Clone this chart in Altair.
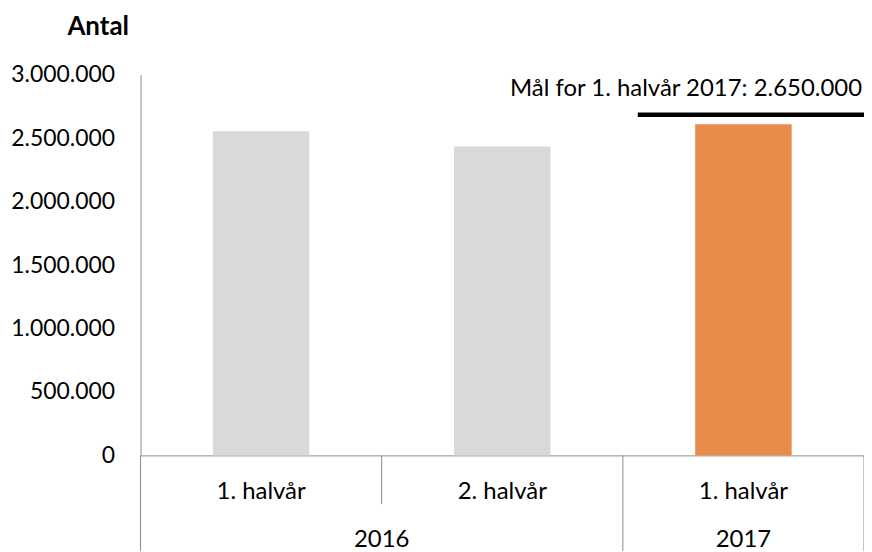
import altair as alt
import pandas as pd

# ---- data ----
years = ["2016", "2016", "2017"]
halves = ["1. halvår", "2. halvår", "1. halvår"]
counts = [2555000, 2435000, 2610000]
status = ["tidligere", "tidligere", "aktuel"]
y_ticks = [0, 500000, 1000000, 1500000, 2000000, 2500000, 3000000]
target_value = 2650000        # value written in the label
target_line_value = 2685000   # where the target line is drawn
target_year = "2017"

FONT = "Lato"
FS = 24
AXIS_GREY = "#8C8C8C"
W, H = 726, 382

keys = [f"{y}|{h}" for y, h in zip(years, halves)]
bars = pd.DataFrame({"key": keys, "count": counts, "status": status})

# boundaries between categories (index units) and year groups
year_groups = []
for i, y in enumerate(years):
    if year_groups and year_groups[-1]["year"] == y:
        year_groups[-1]["end"] = i + 1
    else:
        year_groups.append({"year": y, "start": i, "end": i + 1})
years_df = pd.DataFrame([{"year": g["year"], "mid": (g["start"] + g["end"]) / 2} for g in year_groups])
long_b = sorted({g["start"] for g in year_groups} | {g["end"] for g in year_groups})
short_b = [i for i in range(1, len(years)) if i not in long_b]
long_df = pd.DataFrame({"b": long_b})
short_df = pd.DataFrame({"b": short_b})

tg = [g for g in year_groups if g["year"] == target_year][0]
target_df = pd.DataFrame({
    "start": [tg["start"]], "end": [tg["end"]], "count": [target_line_value],
    "label": ["Mål for 1. halvår 2017: " + f"{target_value:,}".replace(",", ".")],
})

lin = alt.Scale(domain=[0, len(years)], nice=False, zero=False)

bar_layer = alt.Chart(bars).mark_bar().encode(
    x=alt.X("key:N", sort=keys,
            scale=alt.Scale(paddingInner=0.6, paddingOuter=0.3),
            axis=alt.Axis(title=None, labelExpr="split(datum.label, '|')[1]",
                          ticks=False, domainColor=AXIS_GREY, domainWidth=1,
                          labelAngle=0, labelFont=FONT, labelFontSize=FS,
                          labelColor="black", labelPadding=43,
                          labelBaseline="alphabetic")),
    y=alt.Y("count:Q",
            scale=alt.Scale(domain=[0, 3000000], nice=False),
            axis=alt.Axis(values=y_ticks, grid=False, ticks=False,
                          labelExpr="join(split(format(datum.value, ','), ','), '.')",
                          labelFont=FONT, labelFontSize=23, labelColor="black",
                          labelPadding=26, domainColor=AXIS_GREY, domainWidth=1,
                          title="Antal", titleAngle=0, titleFont=FONT,
                          titleFontSize=26, titleFontWeight="bold",
                          titleColor="black", titleAlign="center",
                          titleBaseline="alphabetic", titleX=-43, titleY=-40)),
    color=alt.Color("status:N",
                    scale=alt.Scale(domain=["tidligere", "aktuel"],
                                    range=["#D9D9D9", "#E98B4A"]),
                    legend=None),
)

long_sep = alt.Chart(long_df).mark_rule(color=AXIS_GREY, strokeWidth=1).encode(
    x=alt.X("b:Q", scale=lin, axis=None),
    y=alt.value(H), y2=alt.value(H + 96),
)
short_sep = alt.Chart(short_df).mark_rule(color=AXIS_GREY, strokeWidth=1).encode(
    x=alt.X("b:Q", scale=lin, axis=None),
    y=alt.value(H), y2=alt.value(H + 49),
)
year_text = alt.Chart(years_df).mark_text(
    font=FONT, fontSize=FS, color="black", baseline="alphabetic", align="center"
).encode(
    x=alt.X("mid:Q", scale=lin, axis=None),
    y=alt.value(H + 92),
    text="year:N",
)
target_rule = alt.Chart(target_df).mark_rule(
    color="black", strokeWidth=4.5, xOffset=15, x2Offset=2
).encode(
    x=alt.X("start:Q", scale=lin, axis=None),
    x2="end:Q",
    y=alt.Y("count:Q"),
)
target_text = alt.Chart(target_df).mark_text(
    font=FONT, fontSize=FS, color="black", align="right",
    baseline="alphabetic", dy=-19, dx=-2
).encode(
    x=alt.X("end:Q", scale=lin, axis=None),
    y=alt.Y("count:Q"),
    text="label:N",
)

chart = alt.layer(
    bar_layer, long_sep, short_sep, year_text, target_rule, target_text
).resolve_scale(x="independent").properties(
    width=W, height=H,
    background="white",
    autosize=alt.AutoSizeParams(type="none"),
    padding={"left": 133, "top": 66, "right": 0, "bottom": 96},
).configure_view(stroke="transparent", strokeWidth=0)

chart.save("out.html", embed_options={"renderer": "svg", "actions": False})
